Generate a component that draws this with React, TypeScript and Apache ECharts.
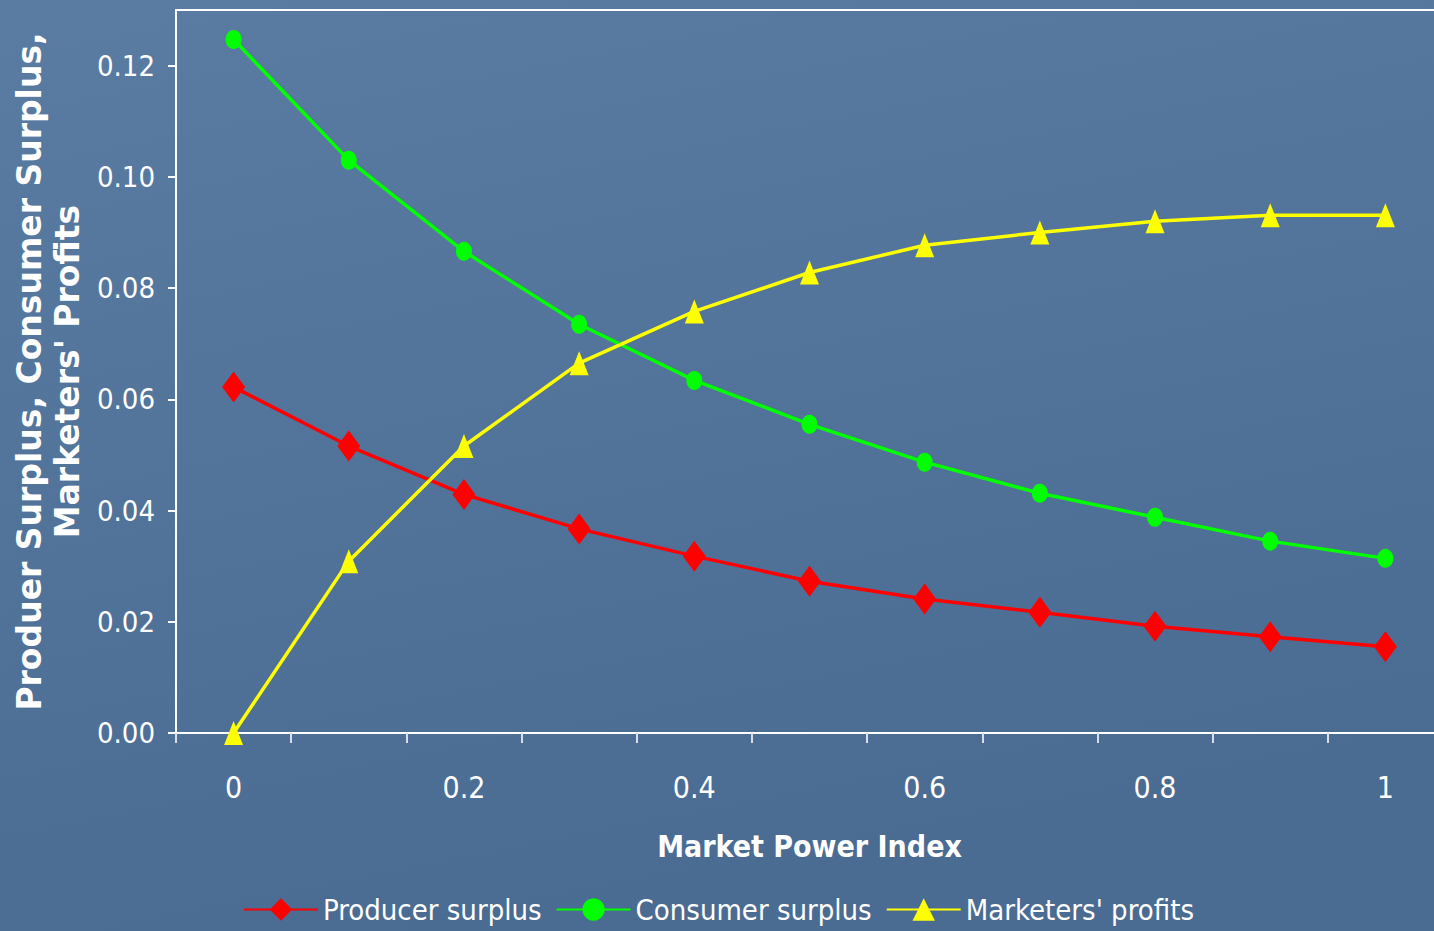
import React, { useEffect, useRef } from "react";
import * as echarts from "echarts";

// Market power index steps (x axis categories)
const marketPowerIndex = ["0", "0.1", "0.2", "0.3", "0.4", "0.5", "0.6", "0.7", "0.8", "0.9", "1"];

// Welfare components at each market power level
const producerSurplus = [0.0622, 0.0516, 0.0429, 0.0367, 0.0318, 0.0273, 0.0241, 0.0217, 0.0192, 0.0173, 0.0155];
const consumerSurplus = [0.1247, 0.103, 0.0866, 0.0735, 0.0634, 0.0555, 0.0487, 0.0431, 0.0388, 0.0345, 0.0314];
const marketersProfits = [0.0, 0.0309, 0.0516, 0.0665, 0.0758, 0.0828, 0.0877, 0.09, 0.092, 0.0931, 0.0931];

const seriesNames = ["Producer surplus", "Consumer surplus", "Marketers' profits"];

const NARROW = "'Liberation Sans Narrow', 'Arial Narrow', 'DejaVu Sans Condensed', sans-serif";

export default function App() {
  const ref = useRef<HTMLDivElement>(null);

  useEffect(() => {
    if (!ref.current) return;
    const chart = echarts.init(ref.current, undefined, { renderer: "svg" });
    chart.setOption({
      animation: false,
      backgroundColor: {
        type: "linear",
        x: 0,
        y: 0,
        x2: 0.3,
        y2: 1,
        colorStops: [
          { offset: 0, color: "#5a7ca3" },
          { offset: 1, color: "#4a6b92" },
        ],
      },
      grid: {
        left: 176,
        top: 10,
        right: -9,
        bottom: 198,
        containLabel: false,
        outerBoundsMode: "none",
      },
      legend: {
        left: 238,
        top: 890,
        itemWidth: 74,
        itemHeight: 28,
        itemGap: 14,
        data: seriesNames,
        textStyle: { color: "#ffffff", fontSize: 29, fontFamily: NARROW },
      },
      xAxis: [
        {
          type: "category",
          data: marketPowerIndex,
          boundaryGap: true,
          name: "Market Power Index",
          nameLocation: "middle",
          nameGap: 98,
          nameTextStyle: {
            color: "#ffffff",
            fontSize: 30,
            fontWeight: "bold",
            fontFamily: NARROW,
            lineHeight: 30,
          },
          axisLine: { lineStyle: { color: "#ffffff", width: 2 } },
          axisTick: { show: true, interval: 0, length: 10, lineStyle: { color: "#d8dee8", width: 2 } },
          axisLabel: {
            interval: 1,
            color: "#ffffff",
            fontSize: 30,
            fontFamily: NARROW,
            margin: 39,
          },
          splitLine: { show: false },
        },
        {
          type: "category",
          data: marketPowerIndex,
          position: "top",
          axisLine: { lineStyle: { color: "#ffffff", width: 2 } },
          axisTick: { show: false },
          axisLabel: { show: false },
        },
      ],
      yAxis: {
        type: "value",
        min: 0,
        max: 0.13,
        interval: 0.02,
        name: "Produer Surplus, Consumer Surplus,\nMarketers' Profits",
        nameLocation: "middle",
        nameRotate: 90,
        nameGap: 85,
        nameTextStyle: {
          color: "#ffffff",
          fontSize: 33,
          fontWeight: "bold",
          fontFamily: "'DejaVu Sans', sans-serif",
          lineHeight: 38,
          align: "center",
        },
        axisLine: { show: true, lineStyle: { color: "#ffffff", width: 2 } },
        axisTick: { show: true, length: 8, lineStyle: { color: "#ffffff", width: 2 } },
        axisLabel: {
          color: "#ffffff",
          fontSize: 29,
          fontFamily: NARROW,
          margin: 21,
          showMaxLabel: false,
          formatter: (v: number) => v.toFixed(2),
        },
        splitLine: { show: false },
      },
      series: [
        {
          name: seriesNames[0],
          type: "line",
          data: producerSurplus,
          symbol: "diamond",
          symbolSize: [23, 31],
          lineStyle: { color: "#ff0000", width: 3.5 },
          itemStyle: { color: "#ff0000" },
        },
        {
          name: seriesNames[1],
          type: "line",
          data: consumerSurplus,
          symbol: "circle",
          symbolSize: [16, 19],
          lineStyle: { color: "#00ff00", width: 3.5 },
          itemStyle: { color: "#00ff00" },
        },
        {
          name: seriesNames[2],
          type: "line",
          data: marketersProfits,
          symbol: "triangle",
          symbolSize: [19, 24],
          lineStyle: { color: "#ffff00", width: 3.5 },
          itemStyle: { color: "#ffff00" },
        },
      ],
    });
    return () => chart.dispose();
  }, []);

  return (
    <div
      ref={ref}
      style={{ position: "fixed", left: 0, top: 0, width: 1434, height: 931 }}
    />
  );
}
